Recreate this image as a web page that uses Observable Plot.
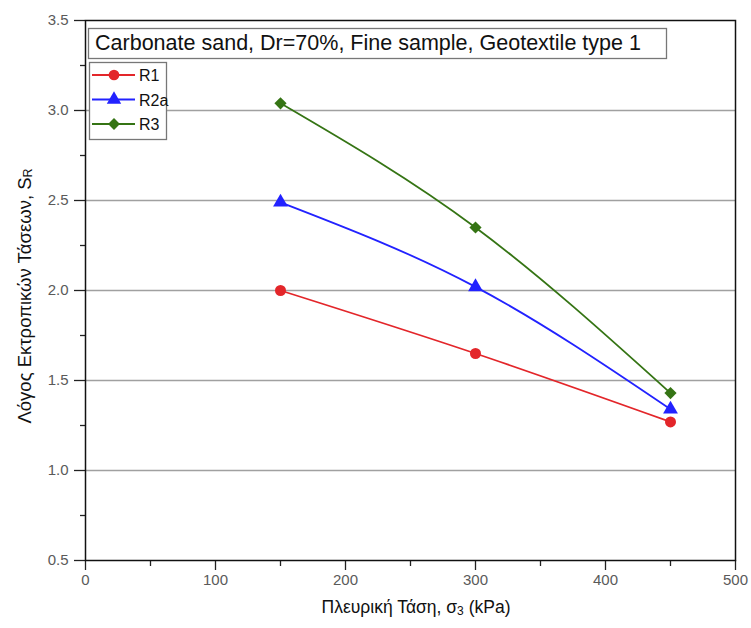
<!DOCTYPE html>
<html>
<head>
<meta charset="utf-8">
<script src="https://cdn.jsdelivr.net/npm/d3@7"></script>
<script src="https://cdn.jsdelivr.net/npm/@observablehq/plot@0.6"></script>
<style>
  html, body { margin: 0; padding: 0; background: #fff; }
  #chart { position: relative; width: 751px; height: 628px; }
  svg { font-family: "Liberation Sans", Arial, sans-serif; }
</style>
</head>
<body>
<div id="chart"></div>
<script>
// Lateral stress σ3 (kPa) and stress ratio S_R for each reinforcement layout
const sigma3 = [150, 300, 450];
const seriesNames = ["R1", "R2a", "R3"];
const valuesR1 = [2.0, 1.65, 1.27];
const valuesR2a = [2.49, 2.02, 1.34];
const valuesR3 = [3.04, 2.35, 1.43];
const colors = ["#e3262a", "#2222ff", "#357414"];
const symbols = ["circle", "triangle", "diamond2"];

const xMajor = [0, 100, 200, 300, 400, 500];
const xMinor = [50, 150, 250, 350, 450];
const yMajor = [0.5, 1.0, 1.5, 2.0, 2.5, 3.0, 3.5];
const yMinor = [0.75, 1.25, 1.75, 2.25, 2.75, 3.25];
const yGrid = [1.0, 1.5, 2.0, 2.5, 3.0];

const title = "Carbonate sand, Dr=70%, Fine sample, Geotextile type 1";

const seriesValues = [valuesR1, valuesR2a, valuesR3];
const rows = seriesNames.flatMap((name, i) =>
  sigma3.map((s, j) => ({series: name, sigma3: s, sr: seriesValues[i][j]}))
);

const tickColor = "#5a5a5a";

const plot = Plot.plot({
  width: 751,
  height: 628,
  marginLeft: 85,
  marginRight: 16,
  marginTop: 20,
  marginBottom: 68,
  style: {fontFamily: "Liberation Sans, Arial, sans-serif", background: "#fff"},
  x: {domain: [0, 500]},
  y: {domain: [0.5, 3.5]},
  color: {domain: seriesNames, range: colors},
  symbol: {domain: seriesNames, range: symbols},
  marks: [
    Plot.ruleY(yGrid, {stroke: "#a0a0a0", strokeWidth: 1.4}),
    // tick marks (labels drawn separately as text marks)
    Plot.axisX(xMajor, {tickSize: 10, tickFormat: () => "", stroke: "#222", strokeWidth: 1.3, label: null}),
    Plot.axisX(xMinor, {tickSize: 6, tickFormat: () => "", stroke: "#222", strokeWidth: 1.3, label: null}),
    Plot.axisY(yMajor, {tickSize: 11, tickFormat: () => "", stroke: "#222", strokeWidth: 1.3, label: null}),
    Plot.axisY(yMinor, {tickSize: 5, tickFormat: () => "", stroke: "#222", strokeWidth: 1.3, label: null}),
    Plot.text(xMajor, {x: d => d, text: d => String(d), frameAnchor: "bottom", dy: 24, fontSize: 15, fill: tickColor}),
    Plot.text(yMajor, {y: d => d, text: d3.format(".1f"), frameAnchor: "left", dx: -17, textAnchor: "end", fontSize: 15, fill: tickColor}),
    Plot.line(rows, {x: "sigma3", y: "sr", z: "series", stroke: "series", strokeWidth: 1.8, curve: "monotone-x"}),
    Plot.dot(rows, {x: "sigma3", y: "sr", fill: "series", symbol: "series", r: 5.5, stroke: "none"}),
    Plot.frame({stroke: "#111", strokeWidth: 1.5})
  ]
});

document.getElementById("chart").appendChild(plot);

const svg = d3.select(plot);

// axis titles with subscripts
const yl = svg.append("text")
  .attr("transform", "translate(31,296) rotate(-90)")
  .attr("text-anchor", "middle")
  .style("font-size", "18.5px")
  .attr("fill", "#111");
yl.append("tspan").text("Λόγος Εκτροπικών Τάσεων, S");
yl.append("tspan").style("font-size", "12.5px").attr("dy", 1).text("R");

const xl = svg.append("text")
  .attr("transform", "translate(416,613)")
  .attr("text-anchor", "middle")
  .style("font-size", "17.5px")
  .attr("fill", "#111");
xl.append("tspan").text("Πλευρική Τάση, σ");
xl.append("tspan").style("font-size", "12px").attr("dy", 2).text("3");
xl.append("tspan").attr("dy", -2).text(" (kPa)");

// title box
const tg = svg.append("g");
tg.append("rect").attr("x", 88.5).attr("y", 28.5).attr("width", 578).attr("height", 30)
  .attr("fill", "#fff").attr("stroke", "#777").attr("stroke-width", 1.3);
const tt = tg.append("text").attr("x", 95).attr("y", 50).attr("text-anchor", "start")
  .style("font-size", "18px").attr("fill", "#111").text(title);
const tw = tt.node().getComputedTextLength();
tt.style("font-size", (18 * 546 / tw).toFixed(2) + "px");

// legend box
const lg = svg.append("g");
lg.append("rect").attr("x", 89.5).attr("y", 62.5).attr("width", 77).attr("height", 77)
  .attr("fill", "#fff").attr("stroke", "#777").attr("stroke-width", 1.3);
seriesNames.forEach((name, i) => {
  const cy = 75 + i * 24.5;
  const row = lg.append("g");
  row.append("line").attr("x1", 92).attr("x2", 135).attr("y1", cy).attr("y2", cy)
    .attr("stroke", colors[i]).attr("stroke-width", 1.8);
  const sym = {circle: d3.symbolCircle, triangle: d3.symbolTriangle, diamond2: d3.symbolDiamond2}[symbols[i]];
  row.append("path").attr("d", d3.symbol(sym, 90)()).attr("transform", `translate(114,${cy})`)
    .attr("fill", colors[i]);
  row.append("text").attr("x", 139).attr("y", cy + 6).attr("text-anchor", "start")
    .style("font-size", "16px").attr("fill", "#111").text(name);
});
</script>
</body>
</html>
